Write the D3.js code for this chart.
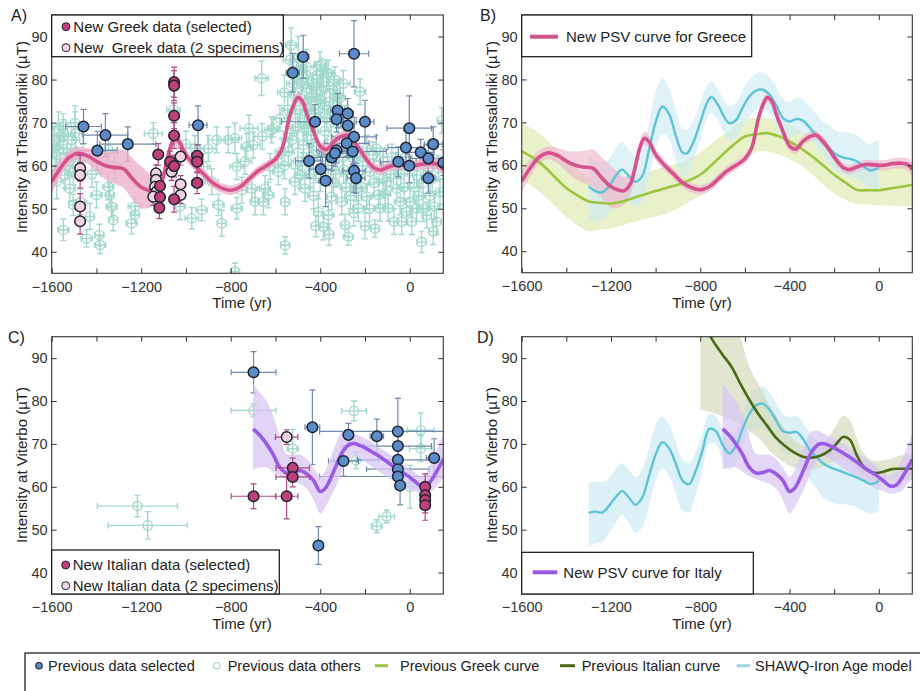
<!DOCTYPE html>
<html><head><meta charset="utf-8">
<script src="https://cdn.jsdelivr.net/npm/d3@7"></script>
<style>
body{margin:0;background:#fff}
text{font-family:"Liberation Sans",Arial,Helvetica,sans-serif;fill:#222}
</style></head>
<body><svg id="fig" width="920" height="691"></svg>
<script>
// ---------- axes ----------
const xDomain = [-1600, 150];
const yDomain = [35, 95];
const xTickValues = [-1600, -1400, -1200, -1000, -800, -600, -400, -200, 0];
const xTickLabels = [-1600, -1200, -800, -400, 0];
const yTickValues = [40, 50, 60, 70, 80, 90];

// ---------- Thessaloniki data: [year, intensity, dIntensity, dYear] ----------
const prevSelectedA = [
  [-1458,69.1,4,80],[-1396,63.5,4.5,90],[-1360,67.1,5,100],[-1260,65.0,4,125],[-946,69.4,4.5,40],
  [-523,81.6,4.5,30],[-476,85.3,5,25],[-249,86.0,7.7,65],[-423,70.2,4,150],[-322,72.8,4,30],
  [-327,70.8,3,30],[-277,72.1,3.5,25],[-277,69.3,4,30],[-200,70.2,5,40],[-450,61.1,4,60],
  [-398,59.2,3,50],[-376,56.5,6,30],[-349,61.9,3,100],[-327,63.6,3,90],[-334,62.9,3,60],
  [-249,66.7,4.5,100],[-282,65.2,3,100],[-255,63.3,3,150],[-249,58.8,5,50],[-240,57.1,3.5,40],
  [-2,68.7,7.5,100],[-17,64.2,4,80],[-51,60.9,3.5,80],[-2,60.0,4,125],[49,63.1,3,60],
  [105,65.0,4,40],[83,61.7,3,80],[83,57.1,3.5,30],[150,60.7,3,60]
];
const prevOthersA = [
  [-1578,62.5,3,40],[-1578,56.3,4,30],[-1560,67,3,60],[-1548,69.1,3,50],[-1548,66.7,4,40],
  [-1548,45.1,2.5,25],[-1541,57.8,3,30],[-1530,64,3,40],[-1519,54.7,3,25],[-1504,58.6,3,30],
  [-1504,50.9,2.5,20],[-1496,69.9,4,40],[-1496,67.5,5,30],[-1471,51.6,3,25],[-1444,43.1,2,25],
  [-1429,48.2,3,20],[-1400,53.2,3,25],[-1387,43.9,2.5,20],[-1384,41.6,2,25],[-1347,63.7,3,40],
  [-1347,55.1,3,25],[-1340,53.2,3,20],[-1332,50.5,2.5,25],[-1325,47.4,2.5,20],[-1243,46.6,2.5,25],
  [-1228,48.6,2,20],[-1228,50.5,2,30],[-1146,67.5,2.5,40],[-1320,60,3,30],[-1420,58,3,40],
  [-1590,66,3,30],[-1570,68.5,4,40],[-1520,61,3,40],[-1585,59,3,25],[-1460,62,3,30],
  [-1056,73,3,30],[-1027,50.5,3,25],[-1000,65,3,40],[-974,47.8,2.5,30],[-960,64,3,40],
  [-930,49.7,2.5,25],[-922,59.8,3,30],[-900,64,3,35],[-885,56.3,3,30],[-863,66,3,40],
  [-855,50.9,2.5,25],[-840,46.6,3,20],[-811,66,3,45],[-781,66.4,3.5,30],[-781,35.4,2,20],
  [-773,59.8,3,30],[-773,50.1,2.5,25],[-751,54.3,3,25],[-736,61,3,30],[-729,64.4,3,25],
  [-718,68.7,3,40],[-706,54.7,3,25],[-699,64.8,3,30],[-691,51.6,3,20],[-662,80.3,4,30],
  [-659,66.8,3,35],[-654,51.6,3,25],[-647,54.7,3,25],[-632,53.2,3,25],[-624,59.8,3,25],
  [-617,68.3,3,30],[-587,58.6,3,25],[-572,63.3,3,30],[-557,51.6,3,20],[-557,41.5,2,20],
  [-542,63.3,3,25],[-535,67.5,3,30],[-513,56.3,3,25],[-580,71,3,30],[-610,68.7,2,25],
  [-535,84.6,4,30],[-498,85,5,25],[-483,82.2,4,25],[-520,79.1,4,30],[-461,83,4,30],
  [-416,80,4,25],[-394,81.9,3,25],[-364,81.5,3,25],[-342,77.6,4,30],[-312,75.7,4,25],
  [-297,79.1,3,30],[-438,76,3,25],[-401,75.3,3,25],[-483,79.5,3,30],[-461,78,4,25],
  [-446,75.7,3,25],[-416,81.1,3,30],[-401,83.4,3,25],[-386,79.5,3,25],[-371,81.5,3,25],
  [-356,74.9,3,30],[-409,73.3,3,25],[-461,68.7,3,30],[-476,64.8,3,25],[-431,62.5,3,30],
  [-490,57.8,3,25],[-468,54.7,3,25],[-409,49.3,3,20],[-386,45.8,3,20],[-364,48.5,3,25],
  [-349,52.8,3,25],[-304,51.6,3,25],[-289,46.2,2.5,20],[-274,43.5,2,20],[-237,54.7,3,30],
  [-230,50.1,3,25],[-192,52.8,3,25],[-177,58.6,3,30],[-155,45.4,2,20],[-140,53.2,3,25],
  [-133,50.1,3,25],[-96,50.1,3,25],[-103,56.3,3,30],[-58,54.7,3,25],[-43,51.6,3,25],
  [-36,47,3,20],[-14,49.3,3,25],[1,51.6,3,25],[9,47,3,20],[31,50.1,3,25],
  [53,42.3,2.5,20],[76,48.5,3,20],[105,44.7,3,20],[120,47,3,20],[135,53.9,3,20],
  [143,70.5,3,20],[128,59.4,3,25],[31,57.8,3,30],[-118,61,3,40],[-163,62.5,3,30],
  [-192,64,3,30],[-252,61.7,3,30],[-222,77.2,3,25],[-510,72,4,30],[-470,70,3,25],
  [-440,66,3,30],[-380,68,3,30],[-350,66,3,30],[-320,70,3,30],[-300,62,3,30],
  [-260,58,3,25],[-210,60,3,30],[-150,64,3,40],[-80,62,3,40],[-40,58,3,30],
  [-20,62,3,30],[20,55,3,30],[60,56,3,25],[90,53,3,25],[150,54,3,20],
  [-560,77,4,30],[-545,73,4,25],[-525,66,3,25],[-560,60,3,30],[-430,53,3,25],
  [-420,46,2.5,20],[-360,44,2.5,20],[-330,58,3,25],[-285,55,3,25],[-250,49,3,20],
  [-200,46,3,20],[-270,67,3,30],[-120,57,3,30],[-60,60,3,30],[60,50,3,25],
  [100,57,3,30],[-453,70.2,3,40],[-500,61,3,30],[-400,57,3,30],
  [-530,88,4,25],[-505,82,4,30],[-490,74,3,25],[-475,80.5,3,25],[-455,73,3,25],
  [-430,78.5,3,25],[-425,72,3,30],[-395,77.5,3,25],[-380,74,3,25],[-370,71,3,30],
  [-345,72.5,3,25],[-335,80,3,25],[-325,76.5,3,30],[-305,73,3,25],[-290,71,3,30],
  [-515,76.5,4,25],[-500,69,3,25],[-480,60,3,30],[-445,58,3,25],[-415,64.5,3,30],
  [-395,62,3,30],[-365,60,3,25],[-340,56,3,25],[-315,64,3,30],[-295,59,3,25],
  [-265,53,3,25],[-240,62,3,30],[-215,55,3,25],[-180,50,3,25],[-160,56,3,25],
  [-110,53.5,3,25],[-85,58,3,30],[-70,47,3,20],[-25,55,3,25],[40,53,3,25],
  [70,60.5,3,25],[110,50.5,3,25],[-1565,64,3,30],[-1530,60,3,25],[-1510,66,3,35]
];
const newGreekSelected = [
  [-1124,62.6,2.5,20],[-1116,55.3,2.5,20],[-1116,52.7,2.5,20],[-1119,50.2,2.5,20],
  [-1053,79.4,3.5,20],[-1053,78.6,3.5,20],[-1053,71.6,3,20],[-1053,67.0,3,20],
  [-1071,60.9,2.5,20],[-1053,59.9,2.5,20],[-1053,52.2,3,20],
  [-950,62.3,2.5,25],[-950,60.9,2.5,25],[-950,56.0,2.5,25]
];
const newGreekTwoSpec = [
  [-1473,59.4,3,15],[-1473,57.8,3,15],[-1473,50.5,3,15],[-1473,47.1,3,15],
  [-1134,58.2,2,15],[-1134,56.7,2,15],[-1138,55.1,2,15],[-1131,54.0,2,15],[-1146,52.8,2,15],
  [-1064,58.6,2,15],[-1024,62.1,2,15],[-1024,55.7,2,15],[-1024,53.2,2,15]
];

// ---------- Viterbo data ----------
const prevSelectedC = [
  [-698,86.7,4.8,100],[-435,73.9,8.7,33],[-408,46.3,4.4,10],[-296,66.0,3.5,67],[-274,72.1,2.7,20],
  [-147,71.8,4,30],[-53,72.9,7.7,350],[-53,69.5,3,150],[-53,66.3,3,180],[-53,64.1,3,140],
  [-53,62.4,3,350],[-43,60.3,4.5,20],[109,66.7,4.5,35]
];
const prevOthersC = [
  [-1217,55.5,2.5,179],[-1171,51.0,3.2,177],[-698,77.8,1.5,100],[-523,68.9,4.5,25],[-249,77.7,2.3,55],
  [-240,66.2,2,100],[-147,50.8,1.5,25],[-103,53.1,1.5,35],[49,73.2,4,60],[49,68.9,3,50],[1,60,5,30]
];
const newItalianSelected = [
  [-698,57.8,2.9,100],[-550,57.8,5.3,50],[-523,64.4,2.3,75],[-523,62.3,2.3,75],
  [69,60.0,3,10],[69,58.0,3,10],[69,56.9,3,10],[69,55.7,3.5,10]
];
const newItalianTwoSpec = [[-550,71.6,1.7,50]];

// ---------- curves ----------
const greekPsvYears = [-1600,-1560,-1520,-1480,-1440,-1400,-1360,-1320,-1280,-1240,-1200,-1170,-1140,-1110,-1090,-1070,-1050,-1030,-1000,-960,-920,-880,-840,-800,-760,-720,-680,-640,-600,-570,-540,-520,-500,-480,-460,-430,-400,-370,-340,-310,-280,-250,-220,-190,-160,-130,-100,-60,-20,20,60,100,130,150];
const greekPsv = [56.3,59.5,62,62.9,62.3,61,60,59.6,59.3,57,55,54.3,54.1,56,60,64.2,66.3,65.5,62.5,60,58,56,54.8,54.3,55,56.8,58.7,60,61.5,64,70.8,74,75.8,75,72,68,64.5,63.8,65.6,66.7,67,65.6,63.5,61.2,59.5,59,59.6,60.2,60.1,60,60.4,60.5,60.2,59];
const greekPsvErr = [2.5,2,1.5,1.5,1.8,2.4,3.2,3.8,4.4,4.8,4.8,4.2,3.2,2.2,1.8,1.5,1.5,1.5,1.3,1.2,1.1,1.1,1.1,1.1,1.1,1.1,1.1,1.1,1.1,1.1,1.2,1.2,1.2,1.2,1.2,1.1,1.1,1.1,1.1,1.1,1.1,1.1,1.1,1.1,1.1,1.1,1.1,1.1,1.1,1.2,1.2,1.3,1.4,1.6];

const prevGreekYears = [-1600,-1550,-1500,-1450,-1400,-1350,-1300,-1250,-1200,-1150,-1100,-1050,-1000,-950,-900,-850,-800,-750,-700,-650,-600,-550,-500,-450,-400,-350,-300,-250,-200,-150,-100,-50,0,50,100,150];
const prevGreek = [63.3,61.8,59.8,57.2,54.7,53,51.6,51.3,51.1,51.6,52.4,53.2,54,54.8,55.5,56.5,57.8,60,62.5,64.8,66.7,67.2,67.5,66.8,65.6,64,62.1,60,57.8,56,54.3,54.2,54.2,54.6,55,55.5];
const prevGreekHi = [69.5,68.5,66.5,64,61.5,59,57,56.5,56.5,57,57.5,58.2,59,59.8,60.5,61.5,63,65,67,69,70.6,71,71,70.5,69.5,68,66.5,64.5,62,60,59,59,59.2,59.5,59.8,59.8];
const prevGreekLo = [56.7,55,53,50.5,48,46,44.7,45,45.3,46,46.8,47.4,48,48.8,50,51.5,53,55,58,60.5,62.1,63,63.3,62.5,61.5,60,58,55.5,53.5,52,51,50.9,50.7,50.6,50.5,50.5];

const shawqGreeceYears = [-1300,-1270,-1240,-1210,-1180,-1150,-1120,-1090,-1060,-1030,-1000,-970,-940,-910,-880,-860,-830,-800,-770,-750,-720,-690,-670,-640,-610,-580,-550,-520,-490,-460,-430,-400,-370,-340,-310,-280,-250,-220,-190,-160,-130,-100,-70,-40,-20,0];
const shawqGreece = [55.1,54,53.7,55,57.5,59,57.5,56.2,57.5,63.5,70,73.7,72,67,63,62.8,65.5,70,74.5,75.9,74,71,69.8,70.5,73.5,76,77.4,77.6,76.5,74,71,70.2,70.8,70.4,68.8,67,65.2,63.8,62.5,61.8,61.5,61,59.8,58.8,59,59.5];
const shawqGreeceUp = [7,7,7,6.5,6.5,6.5,6,6,6,6.5,7,6.5,6,6,5.5,5.5,5,4.5,4,3.6,3.6,3.8,4,4,4,4,4,4,4,4.5,4.5,4.5,5,5,5,5,5,5.5,5.5,6,6,6,6,6,6.5,6.5];
const shawqGreeceDn = [7.6,7,6.5,6,6,6,6,6,6,6.3,6.3,6.3,6,6,5.5,5,4.5,4,3.7,3.7,3.7,3.8,4,4,4.2,4.5,4.5,4.5,4.5,4.5,4.5,4,3.5,3,2.8,2.8,3,3.5,4,4,4,4,4,4,4.5,5];

const italyPsvYears = [-700,-670,-640,-610,-580,-550,-520,-490,-460,-430,-400,-380,-360,-330,-300,-270,-250,-220,-190,-160,-130,-100,-70,-40,-10,20,50,75,100,125,150];
const italyPsv = [73.5,72,70,67.5,64.5,63.2,63.3,63.8,63,61.5,58.9,59.5,61.2,64.8,68.2,69.9,70.1,69.6,68.8,67.9,66.9,65.8,64.6,63.6,62.6,61.4,60.2,60.3,61.8,64,66.4];
const italyPsvHi = [84,82,80,76.5,71.5,67.7,67.5,67.5,66.5,64.5,62.3,63.5,66,70,73,73,72.4,71.8,71,70,69,68,67,66,64.5,63.5,62.5,63.5,66,69,72.4];
const italyPsvLo = [64,64.5,64.5,63.5,62.5,61.8,61.2,60.7,59.5,57,53.8,55,57,60,64,66.5,67.3,66.5,65.5,64.3,63.3,62.3,61.3,60.3,59.5,59,58.4,58.5,59,60.5,62];

const prevItalianYears = [-800,-760,-730,-700,-660,-620,-580,-540,-500,-460,-420,-380,-340,-300,-260,-220,-190,-160,-130,-100,-70,-40,-10,20,50,80,110,150];
const prevItalian = [99,95.5,93,90.8,88,84,80.3,77,74.2,71.4,69.5,68,67,66.8,67.3,68.5,70,71.6,71,67.5,64.8,63.5,63.2,63.5,64,64.2,64.2,64.2];
const prevItalianHi = [110,108,106,104,100,95,88,84,80,76.5,73.5,71,69.5,69,70,72,74.5,76.5,75.5,71.5,68,66.5,66,66.2,66.5,67,67.5,67.7];
const prevItalianLo = [78,77.5,77,76.5,75.5,74.5,73,71.5,69,67,65.5,64.5,64.2,64.2,64.5,65.5,66,66.5,66.2,64,62.5,61.5,61.2,61.2,61.4,61.5,61.5,61.5];

const shawqItalyYears = [-1300,-1270,-1240,-1210,-1180,-1150,-1120,-1090,-1060,-1030,-1000,-970,-940,-910,-880,-850,-820,-790,-760,-730,-700,-670,-640,-610,-580,-550,-520,-490,-460,-430,-400,-370,-340,-310,-280,-250,-220,-190,-160,-130,-100,-70,-40,-10,0];
const shawqItaly = [53.9,54.2,54,55.5,57.5,59,57.5,55.8,57.5,62.5,67.5,70.4,69,65.5,61.5,60.6,63.8,68.5,73.5,73,69.8,67.8,69.5,73.5,77,79,79.4,78,75.5,73,72.6,72.8,71.2,68.6,67,65.5,64.6,64,63.4,62.8,62.2,61.5,60.7,61,61.5];
const shawqItalyUp = [7,7,7,6.5,6.5,6.5,6.5,6.5,6.5,6.5,7,6,5.5,5,5,5,4.5,4,3.5,3.5,3.5,3.5,3.5,3.8,4,4,4,4,4,4,3.7,3.7,3.8,4,4,4.2,4.4,4.6,4.8,5,5,5,5,4,3];
const shawqItalyDn = [8,7.5,7,6.5,6,5.5,6,6.5,7,7,6,6,6.5,7,7,6.5,5.5,4.5,3.5,3,3.5,3.8,4,4,4.5,5,5.5,5.5,5,5,5,5,6,7,7.5,8,8,8,7.5,7,7,7,7,7,7];

// ---------- colours ----------
const C = {
  axis: '#333', others: '#a3d8cd', blue: '#5b8bc9', blueBar: '#7089ad', dark: '#1d2433',
  magenta: '#c03f79', magentaBar: '#b04a86', pink: '#f6d2de',
  greekCurve: '#d6528c', greekBand: '#eeb0ca',
  prevGreek: '#9cc43c', prevGreekBand: '#d9e7a6',
  prevItalian: '#486a14', prevItalianBand: '#d3d8b8',
  shawq: '#5fc3d8', shawqBand: '#cdebf4',
  italy: '#9b5ae6', italyBand: '#d8c5f4'
};

const svg = d3.select('#fig');
const fmt = d3.format('d');
let clipCount = 0;

function makePanel(box) {
  const x = d3.scaleLinear().domain(xDomain).range([box.l, box.r]);
  const y = d3.scaleLinear().domain(yDomain).range([box.b, box.t]);
  const id = 'clip' + (++clipCount);
  svg.append('clipPath').attr('id', id).append('rect')
    .attr('x', box.l).attr('y', box.t).attr('width', box.r - box.l).attr('height', box.b - box.t);
  const g = svg.append('g');
  const plot = g.append('g').attr('clip-path', `url(#${id})`);
  return {x, y, box, g, plot};
}

function drawAxes(p, ylabel, letter, letterX, labelX, labelCy, titleX) {
  const {x, y, box, g} = p;
  const styleAxis = a => {
    a.select('.domain').remove();
    a.attr('font-family', '"Liberation Sans",Arial,sans-serif').attr('font-size', 14.5).attr('color', C.axis);
    a.selectAll('text').style('fill', '#333');
  };
  g.append('g').attr('transform', `translate(0,${box.b})`)
    .call(d3.axisBottom(x).tickValues(xTickValues).tickSize(-5).tickPadding(8)
      .tickFormat(d => xTickLabels.includes(d) ? fmt(d) : ''))
    .call(styleAxis);
  g.append('g').attr('transform', `translate(0,${box.t})`)
    .call(d3.axisTop(x).tickValues(xTickValues).tickSize(-5).tickFormat(''))
    .call(styleAxis);
  g.append('g').attr('transform', `translate(${box.l},0)`)
    .call(d3.axisLeft(y).tickValues(yTickValues).tickSize(-5).tickPadding(4).tickFormat(fmt))
    .call(styleAxis);
  g.append('g').attr('transform', `translate(${box.r},0)`)
    .call(d3.axisRight(y).tickValues(yTickValues).tickSize(-5).tickFormat(''))
    .call(styleAxis);
  g.append('rect').attr('x', box.l).attr('y', box.t).attr('width', box.r - box.l).attr('height', box.b - box.t)
    .attr('fill', 'none').attr('stroke', C.axis).attr('stroke-width', 1.1);
  g.append('text').attr('x', titleX).attr('y', box.b + 35).attr('text-anchor', 'middle')
    .attr('font-size', 15).text('Time (yr)');
  g.append('text').attr('transform', `translate(${labelX},${labelCy}) rotate(-90)`)
    .attr('text-anchor', 'middle').attr('dy', '0.35em').attr('font-size', 15).text(ylabel);
  g.append('text').attr('x', letterX).attr('y', box.t + 6).attr('font-size', 16).text(letter);
}

function drawBars(p, pts, color, width) {
  const {x, y, plot} = p;
  const g = plot.append('g').attr('stroke', color).attr('stroke-width', width).attr('fill', 'none');
  const cap = 3;
  const vert = pts.filter(d => d[2] > 0);
  g.selectAll('line.v').data(vert).join('line').attr('class', 'v')
    .attr('x1', d => x(d[0])).attr('x2', d => x(d[0]))
    .attr('y1', d => y(d[1] + d[2])).attr('y2', d => y(d[1] - d[2]));
  g.selectAll('line.vc1').data(vert).join('line').attr('class', 'vc1')
    .attr('x1', d => x(d[0]) - cap).attr('x2', d => x(d[0]) + cap)
    .attr('y1', d => y(d[1] + d[2])).attr('y2', d => y(d[1] + d[2]));
  g.selectAll('line.vc2').data(vert).join('line').attr('class', 'vc2')
    .attr('x1', d => x(d[0]) - cap).attr('x2', d => x(d[0]) + cap)
    .attr('y1', d => y(d[1] - d[2])).attr('y2', d => y(d[1] - d[2]));
  const hor = pts.filter(d => d[3] > 0);
  g.selectAll('line.h').data(hor).join('line').attr('class', 'h')
    .attr('x1', d => x(d[0] - d[3])).attr('x2', d => x(d[0] + d[3]))
    .attr('y1', d => y(d[1])).attr('y2', d => y(d[1]));
  g.selectAll('line.hc1').data(hor).join('line').attr('class', 'hc1')
    .attr('x1', d => x(d[0] - d[3])).attr('x2', d => x(d[0] - d[3]))
    .attr('y1', d => y(d[1]) - cap).attr('y2', d => y(d[1]) + cap);
  g.selectAll('line.hc2').data(hor).join('line').attr('class', 'hc2')
    .attr('x1', d => x(d[0] + d[3])).attr('x2', d => x(d[0] + d[3]))
    .attr('y1', d => y(d[1]) - cap).attr('y2', d => y(d[1]) + cap);
}

function drawMarkers(p, pts, r, fill, stroke, sw) {
  const {x, y, plot} = p;
  plot.append('g').selectAll('circle').data(pts).join('circle')
    .attr('cx', d => x(d[0])).attr('cy', d => y(d[1])).attr('r', r)
    .attr('fill', fill).attr('stroke', stroke).attr('stroke-width', sw);
}

function series(years, vals, hi, lo) {
  return years.map((t, i) => ({t, v: vals[i], hi: hi ? hi[i] : null, lo: lo ? lo[i] : null}));
}

function drawBand(p, data, color, opacity) {
  const {x, y, plot} = p;
  plot.append('path').datum(data)
    .attr('d', d3.area().x(d => x(d.t)).y0(d => y(d.lo)).y1(d => y(d.hi)).curve(d3.curveCatmullRom.alpha(0.5)))
    .attr('fill', color).attr('opacity', opacity).attr('stroke', 'none');
}

function drawCurve(p, data, color, width) {
  const {x, y, plot} = p;
  plot.append('path').datum(data)
    .attr('d', d3.line().x(d => x(d.t)).y(d => y(d.v)).curve(d3.curveCatmullRom.alpha(0.5)))
    .attr('fill', 'none').attr('stroke', color).attr('stroke-width', width)
    .attr('stroke-linejoin', 'round').attr('stroke-linecap', 'butt');
}

const greekSeries = series(greekPsvYears, greekPsv,
  greekPsv.map((v, i) => v + greekPsvErr[i]), greekPsv.map((v, i) => v - greekPsvErr[i]));
const prevGreekSeries = series(prevGreekYears, prevGreek, prevGreekHi, prevGreekLo);
const shawqGreeceSeries = series(shawqGreeceYears, shawqGreece,
  shawqGreece.map((v, i) => v + shawqGreeceUp[i]), shawqGreece.map((v, i) => v - shawqGreeceDn[i]));
const italySeries = series(italyPsvYears, italyPsv, italyPsvHi, italyPsvLo);
const prevItalianSeries = series(prevItalianYears, prevItalian, prevItalianHi, prevItalianLo);
const shawqItalySeries = series(shawqItalyYears, shawqItaly,
  shawqItaly.map((v, i) => v + shawqItalyUp[i]), shawqItaly.map((v, i) => v - shawqItalyDn[i]));

// ---------- panel A ----------
const pA = makePanel({l: 51.7, r: 443.3, t: 15, b: 273.3});
drawBars(pA, prevOthersA, C.others, 1.4);
drawMarkers(pA, prevOthersA, 4.6, 'none', C.others, 1.4);
drawBars(pA, prevSelectedA, C.blueBar, 1.2);
drawBand(pA, greekSeries, C.greekBand, 0.8);
drawCurve(pA, greekSeries, C.greekCurve, 3.6);
drawMarkers(pA, prevSelectedA, 5.3, C.blue, C.dark, 1.5);
drawBars(pA, newGreekSelected.concat(newGreekTwoSpec), C.magentaBar, 1.2);
drawMarkers(pA, newGreekTwoSpec, 5.3, C.pink, C.dark, 1.5);
drawMarkers(pA, newGreekSelected, 5.3, C.magenta, C.dark, 1.5);
drawAxes(pA, 'Intensity at Thessaloniki (µT)', 'A)', 11, 21.7, 137, 242);

// ---------- panel B ----------
const pB = makePanel({l: 521.7, r: 912.3, t: 15, b: 272.7});
drawBand(pB, prevGreekSeries, C.prevGreekBand, 0.6);
drawBand(pB, shawqGreeceSeries, C.shawqBand, 0.65);
drawBand(pB, greekSeries, C.greekBand, 0.6);
drawCurve(pB, prevGreekSeries, C.prevGreek, 2.6);
drawCurve(pB, shawqGreeceSeries, C.shawq, 2.4);
drawCurve(pB, greekSeries, C.greekCurve, 3.6);
drawAxes(pB, 'Intensity at Thessaloniki (µT)', 'B)', 480, 491.7, 137, 702);

// ---------- panel C ----------
const pC = makePanel({l: 51.7, r: 443.3, t: 336.7, b: 594});
drawBars(pC, prevOthersC, C.others, 1.4);
drawMarkers(pC, prevOthersC, 4.6, 'none', C.others, 1.4);
drawBars(pC, prevSelectedC, C.blueBar, 1.2);
drawBand(pC, italySeries, C.italyBand, 0.75);
drawCurve(pC, italySeries, C.italy, 3.6);
drawMarkers(pC, prevSelectedC, 5.3, C.blue, C.dark, 1.5);
drawBars(pC, newItalianSelected.concat(newItalianTwoSpec), C.magentaBar, 1.2);
drawMarkers(pC, newItalianTwoSpec, 5.3, C.pink, C.dark, 1.5);
drawMarkers(pC, newItalianSelected, 5.3, C.magenta, C.dark, 1.5);
drawAxes(pC, 'Intensity at Viterbo (µT)', 'C)', 8, 21.7, 465, 242);

// ---------- panel D ----------
const pD = makePanel({l: 521.7, r: 912.3, t: 336.7, b: 594});
drawBand(pD, shawqItalySeries, C.shawqBand, 0.7);
drawBand(pD, prevItalianSeries, C.prevItalianBand, 0.65);
drawBand(pD, italySeries, C.italyBand, 0.7);
drawCurve(pD, shawqItalySeries, C.shawq, 2.4);
drawCurve(pD, prevItalianSeries, C.prevItalian, 2.6);
drawCurve(pD, italySeries, C.italy, 3.6);
drawAxes(pD, 'Intensity at Viterbo (µT)', 'D)', 477, 491.7, 465, 702);

// ---------- in-panel legends ----------
function legendBox(x0, y0, x1, y1) {
  svg.append('rect').attr('x', x0).attr('y', y0).attr('width', x1 - x0).attr('height', y1 - y0)
    .attr('fill', '#fff').attr('stroke', '#111').attr('stroke-width', 1.2);
}
function legendText(x, y, s, size) {
  svg.append('text').attr('x', x).attr('y', y).attr('dy', '0.35em').attr('font-size', size)
    .style('white-space', 'pre').text(s);
}
legendBox(51.7, 15, 283.3, 56.7);
svg.append('circle').attr('cx', 66).attr('cy', 26.7).attr('r', 4).attr('fill', C.magenta).attr('stroke', C.dark).attr('stroke-width', 1);
legendText(73.3, 26.7, 'New Greek data (selected)', 15);
svg.append('circle').attr('cx', 66).attr('cy', 47.7).attr('r', 4).attr('fill', C.pink).attr('stroke', C.dark).attr('stroke-width', 1);
legendText(73.3, 47.7, 'New  Greek data (2 specimens)', 15);

legendBox(521.7, 15, 751.7, 56.7);
svg.append('line').attr('x1', 530).attr('x2', 558).attr('y1', 36.7).attr('y2', 36.7).attr('stroke', C.greekCurve).attr('stroke-width', 4);
legendText(566, 36.7, 'New PSV curve for Greece', 15);

legendBox(51.7, 550, 279.3, 594);
svg.append('circle').attr('cx', 65.7).attr('cy', 565).attr('r', 4).attr('fill', C.magenta).attr('stroke', C.dark).attr('stroke-width', 1);
legendText(72.7, 565, 'New Italian data (selected)', 15);
svg.append('circle').attr('cx', 65.7).attr('cy', 585.7).attr('r', 4).attr('fill', C.pink).attr('stroke', C.dark).attr('stroke-width', 1);
legendText(72.7, 585.7, 'New Italian data (2 specimens)', 15);

legendBox(521.7, 552.3, 753.3, 594);
svg.append('line').attr('x1', 532.7).attr('x2', 557.3).attr('y1', 572.3).attr('y2', 572.3).attr('stroke', C.italy).attr('stroke-width', 4);
legendText(563.3, 572.3, 'New PSV curve for Italy', 15);

// ---------- shared legend ----------
svg.append('rect').attr('x', 25).attr('y', 653).attr('width', 920).attr('height', 60)
  .attr('fill', '#fff').attr('stroke', '#222').attr('stroke-width', 1.3);
const ly = 665.7;
svg.append('circle').attr('cx', 39).attr('cy', ly).attr('r', 3.2).attr('fill', C.blue).attr('stroke', C.dark).attr('stroke-width', 1.2);
legendText(48, ly, 'Previous data selected', 14.5);
svg.append('circle').attr('cx', 216.7).attr('cy', ly).attr('r', 3.2).attr('fill', 'none').attr('stroke', C.others).attr('stroke-width', 1.2);
legendText(227.7, ly, 'Previous data others', 14.5);
svg.append('line').attr('x1', 375).attr('x2', 388).attr('y1', ly).attr('y2', ly).attr('stroke', C.prevGreek).attr('stroke-width', 3);
legendText(400, ly, 'Previous Greek curve', 14.5);
svg.append('line').attr('x1', 560).attr('x2', 575).attr('y1', ly).attr('y2', ly).attr('stroke', C.prevItalian).attr('stroke-width', 3);
legendText(581.7, ly, 'Previous Italian curve', 14.5);
svg.append('line').attr('x1', 736.7).attr('x2', 750).attr('y1', ly).attr('y2', ly).attr('stroke', '#9fd6e6').attr('stroke-width', 3);
legendText(755, ly, 'SHAWQ-Iron Age model', 14.5);
</script></body></html>
